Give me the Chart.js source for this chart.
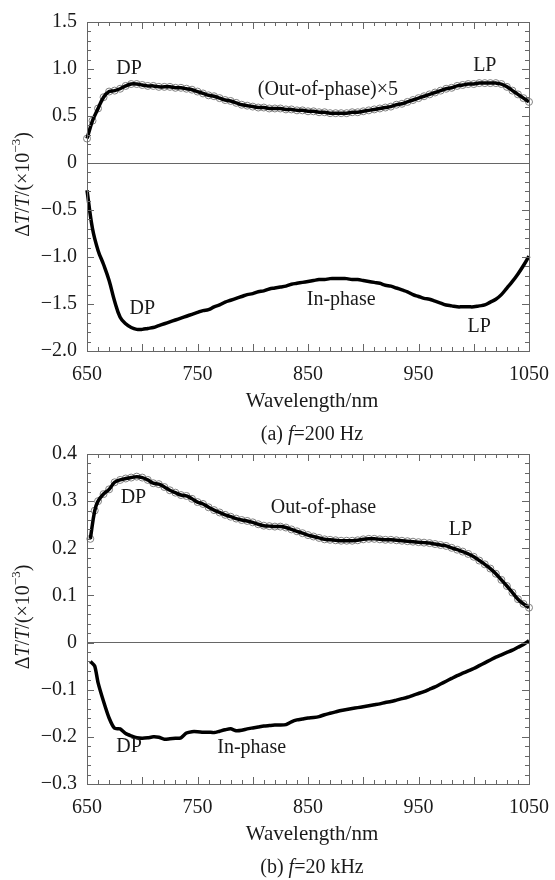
<!DOCTYPE html>
<html>
<head>
<meta charset="utf-8">
<script src="https://cdn.jsdelivr.net/npm/chart.js@4.4.1/dist/chart.umd.min.js"></script>
<style>
  body { margin: 0; background: #fff; }
  canvas { position: absolute; left: 0; }
</style>
</head>
<body>
<canvas id="chartA" width="555" height="460" style="top:0"></canvas>
<canvas id="chartB" width="555" height="450" style="top:430px"></canvas>
<script>
// panel (a) f = 200 Hz, wavelength every 5 nm from 650 to 1050
const wlA = [650,655,660,665,670,675,680,685,690,695,700,705,710,715,720,725,730,735,740,745,
  750,755,760,765,770,775,780,785,790,795,800,805,810,815,820,825,830,835,840,845,
  850,855,860,865,870,875,880,885,890,895,900,905,910,915,920,925,930,935,940,945,
  950,955,960,965,970,975,980,985,990,995,1000,1005,1010,1015,1020,1025,1030,1035,1040,1045,1050];
const outPhaseA = [0.26,0.45,0.58,0.70,0.76,0.77,0.79,0.82,0.84,0.84,
  0.83,0.82,0.82,0.81,0.81,0.81,0.80,0.80,0.79,0.78,
  0.76,0.74,0.72,0.71,0.69,0.67,0.66,0.64,0.62,0.61,
  0.60,0.59,0.59,0.58,0.58,0.58,0.57,0.57,0.56,0.56,
  0.55,0.55,0.54,0.54,0.53,0.53,0.53,0.53,0.54,0.54,
  0.55,0.56,0.57,0.58,0.59,0.60,0.62,0.63,0.65,0.67,
  0.69,0.71,0.73,0.75,0.77,0.79,0.80,0.82,0.83,0.84,
  0.84,0.85,0.85,0.85,0.85,0.84,0.81,0.77,0.73,0.69,
  0.65];
const inPhaseA = [-0.29,-0.70,-0.93,-1.08,-1.25,-1.47,-1.64,-1.71,-1.75,-1.77,
  -1.77,-1.76,-1.75,-1.73,-1.71,-1.69,-1.67,-1.65,-1.63,-1.61,
  -1.59,-1.57,-1.56,-1.53,-1.51,-1.48,-1.46,-1.44,-1.42,-1.40,
  -1.39,-1.37,-1.36,-1.34,-1.33,-1.32,-1.31,-1.29,-1.28,-1.27,
  -1.26,-1.25,-1.24,-1.24,-1.23,-1.23,-1.23,-1.23,-1.24,-1.24,
  -1.25,-1.26,-1.27,-1.28,-1.30,-1.31,-1.33,-1.35,-1.37,-1.40,
  -1.42,-1.44,-1.45,-1.47,-1.49,-1.51,-1.52,-1.53,-1.53,-1.53,
  -1.53,-1.52,-1.51,-1.48,-1.45,-1.40,-1.33,-1.26,-1.18,-1.09,
  -0.99];

// panel (b) f = 20 kHz
const wlB = [653,657,660,665,670,675,680,685,690,695,700,705,710,715,720,725,730,735,740,745,
  750,755,760,765,770,775,780,785,790,795,800,805,810,815,820,825,830,835,840,845,
  850,855,860,865,870,875,880,885,890,895,900,905,910,915,920,925,930,935,940,945,
  950,955,960,965,970,975,980,985,990,995,1000,1005,1010,1015,1020,1025,1030,1035,1040,1045,1050];
const outPhaseB = [0.22,0.28,
  0.30,0.315,0.325,0.34,0.345,0.348,0.35,0.352,0.35,0.345,
  0.338,0.336,0.33,0.323,0.318,0.313,0.311,0.305,0.298,0.294,
  0.287,0.281,0.276,0.271,0.267,0.263,0.26,0.258,0.255,0.251,
  0.248,0.247,0.246,0.246,0.244,0.240,0.236,0.232,0.228,0.225,
  0.222,0.219,0.218,0.217,0.216,0.216,0.216,0.217,0.219,0.220,
  0.220,0.219,0.218,0.218,0.217,0.216,0.215,0.214,0.213,0.212,
  0.211,0.209,0.207,0.205,0.201,0.197,0.193,0.188,0.182,0.174,
  0.166,0.157,0.146,0.133,0.120,0.106,0.092,0.082,
  0.074];
const inPhaseB = [-0.04,-0.05,
  -0.085,-0.125,-0.16,-0.182,-0.183,-0.193,-0.198,-0.202,-0.203,-0.202,
  -0.200,-0.201,-0.205,-0.204,-0.203,-0.202,-0.192,-0.189,-0.189,-0.190,
  -0.190,-0.191,-0.188,-0.185,-0.183,-0.187,-0.186,-0.183,-0.181,-0.179,
  -0.177,-0.176,-0.175,-0.175,-0.174,-0.168,-0.164,-0.162,-0.160,-0.159,
  -0.157,-0.153,-0.150,-0.147,-0.144,-0.142,-0.140,-0.138,-0.136,-0.134,
  -0.132,-0.130,-0.127,-0.125,-0.122,-0.119,-0.116,-0.112,-0.108,-0.104,
  -0.099,-0.094,-0.088,-0.082,-0.076,-0.070,-0.065,-0.060,-0.055,-0.049,
  -0.043,-0.037,-0.031,-0.026,-0.021,-0.016,-0.010,-0.004,
  0.004];

const xTicks = [650, 750, 850, 950, 1050];
const yTicksA = [1.5, 1.0, 0.5, 0, -0.5, -1.0, -1.5, -2.0];
const yTicksB = [0.4, 0.3, 0.2, 0.1, 0, -0.1, -0.2, -0.3];

// [text, wavelength, value]
const labelsA = [["DP", 688, 1.0], ["(Out-of-phase)\u00d75", 868, 0.78], ["LP", 1010, 1.03],
  ["DP", 700, -1.55], ["In-phase", 880, -1.46], ["LP", 1005, -1.74]];
const labelsB = [["DP", 692, 0.308], ["Out-of-phase", 864, 0.287], ["LP", 988, 0.24],
  ["DP", 688, -0.22], ["In-phase", 799, -0.223]];

const serif = '"Liberation Serif", "Times New Roman", serif';
const ink = "#1a1a1a";
const axisColor = "#666";

Chart.defaults.font.family = serif;
Chart.defaults.font.size = 20;
Chart.defaults.color = ink;

const pts = (xs, ys) => xs.map((w, i) => ({x: w, y: ys[i]}));

function drawRich(ctx, parts, cx, cy, angle) {
  ctx.save();
  ctx.translate(cx, cy);
  ctx.rotate(angle);
  ctx.textBaseline = "middle";
  ctx.textAlign = "left";
  const fontOf = p => (p.i ? "italic " : "") + (p.sup ? 13 : 20) + "px " + serif;
  let total = 0;
  parts.forEach(p => { ctx.font = fontOf(p); total += ctx.measureText(p.t).width; });
  let xx = -total / 2;
  parts.forEach(p => {
    ctx.font = fontOf(p);
    ctx.fillText(p.t, xx, p.sup ? -7 : 0);
    xx += ctx.measureText(p.t).width;
  });
  ctx.restore();
}

function decor(cfg) {
  return {
    id: "decor",
    afterDraw(chart) {
      const {ctx, chartArea: a, scales: {x, y}} = chart;
      ctx.save();
      ctx.strokeStyle = axisColor;
      ctx.lineWidth = 1;
      ctx.strokeRect(Math.round(a.left) + 0.5, Math.round(a.top) + 0.5,
        Math.round(a.right - a.left), Math.round(a.bottom - a.top));
      ctx.beginPath();
      for (let w = 650; w <= 1050; w += 10) {
        const px = Math.round(x.getPixelForValue(w)) + 0.5;
        const len = w % 50 === 0 ? 7 : 4;
        ctx.moveTo(px, a.bottom); ctx.lineTo(px, a.bottom - len);
        ctx.moveTo(px, a.top); ctx.lineTo(px, a.top + len);
      }
      const n = Math.round((cfg.yMax - cfg.yMin) / cfg.minor);
      for (let k = 0; k <= n; k++) {
        const v = cfg.yMin + k * cfg.minor;
        const r = v / cfg.major;
        const len = Math.abs(r - Math.round(r)) < 1e-6 ? 7 : 4;
        const py = Math.round(y.getPixelForValue(v)) + 0.5;
        ctx.moveTo(a.left, py); ctx.lineTo(a.left + len, py);
        ctx.moveTo(a.right, py); ctx.lineTo(a.right - len, py);
      }
      ctx.stroke();

      ctx.fillStyle = ink;
      ctx.font = "20px " + serif;
      ctx.textAlign = "center";
      ctx.textBaseline = "middle";
      cfg.labels.forEach(([t, w, v]) => ctx.fillText(t, x.getPixelForValue(w), y.getPixelForValue(v)));

      const mid = (a.left + a.right) / 2 + 4;
      ctx.font = "21px " + serif;
      ctx.fillText("Wavelength/nm", mid, a.bottom + 50);
      drawRich(ctx, cfg.caption, mid, a.bottom + 84, 0);
      drawRich(ctx, [{t: "\u0394"}, {t: "T", i: true}, {t: "/"}, {t: "T", i: true},
        {t: "/(\u00d710"}, {t: "\u22123", sup: true}, {t: ")"}], 24, (a.top + a.bottom) / 2 - 2, -Math.PI / 2);
      ctx.restore();
    }
  };
}

function makeChart(id, cfg) {
  const lineStyle = {borderColor: "#000", borderWidth: 3.5, pointRadius: 0, fill: false, order: 1};
  return new Chart(document.getElementById(id), {
    type: "line",
    data: {
      datasets: [
        Object.assign({data: pts(cfg.wl, cfg.outPhase), tension: 0.4, clip: false}, lineStyle),
        {data: pts(cfg.wl, cfg.outPhase), showLine: false, pointRadius: 3.5, pointBorderWidth: 1,
          pointBorderColor: "#808080", pointBackgroundColor: "rgba(255,255,255,0)", order: 2, clip: false},
        Object.assign({data: pts(cfg.wl, cfg.inPhase), tension: cfg.inTension, clip: false}, lineStyle)
      ]
    },
    options: {
      responsive: false,
      animation: false,
      devicePixelRatio: 1,
      layout: {padding: {left: 0, right: 26, top: cfg.padTop, bottom: 0}},
      plugins: {legend: {display: false}, tooltip: {enabled: false}},
      scales: {
        x: {
          type: "linear", min: 650, max: 1050,
          afterBuildTicks: s => { s.ticks = xTicks.map(v => ({value: v})); },
          afterFit: s => { s.height = cfg.xHeight; },
          grid: {display: false},
          border: {display: false},
          ticks: {padding: 4, maxRotation: 0, autoSkip: false, callback: v => String(v)}
        },
        y: {
          min: cfg.yMin, max: cfg.yMax,
          afterBuildTicks: s => { s.ticks = cfg.yTicks.map(v => ({value: v})); },
          afterFit: s => { s.width = 87; },
          grid: {drawTicks: false, color: c => c.tick && Math.abs(c.tick.value) < 1e-9 ? axisColor : "rgba(0,0,0,0)"},
          border: {display: false},
          ticks: {
            padding: 10, autoSkip: false,
            callback: v => Math.abs(v) < 1e-9 ? "0" : v.toFixed(1).replace("-", "\u2212")
          }
        }
      }
    },
    plugins: [decor(cfg)]
  });
}

makeChart("chartA", {
  wl: wlA, outPhase: outPhaseA, inPhase: inPhaseA, inTension: 0.4,
  yMin: -2, yMax: 1.5, yTicks: yTicksA, minor: 0.1, major: 0.5,
  padTop: 22, xHeight: 109, labels: labelsA,
  caption: [{t: "(a) "}, {t: "f", i: true}, {t: "=200 Hz"}]
});
makeChart("chartB", {
  wl: wlB, outPhase: outPhaseB, inPhase: inPhaseB, inTension: 0.2,
  yMin: -0.3, yMax: 0.4, yTicks: yTicksB, minor: 0.02, major: 0.1,
  padTop: 24, xHeight: 96, labels: labelsB,
  caption: [{t: "(b) "}, {t: "f", i: true}, {t: "=20 kHz"}]
});
</script>
</body>
</html>
